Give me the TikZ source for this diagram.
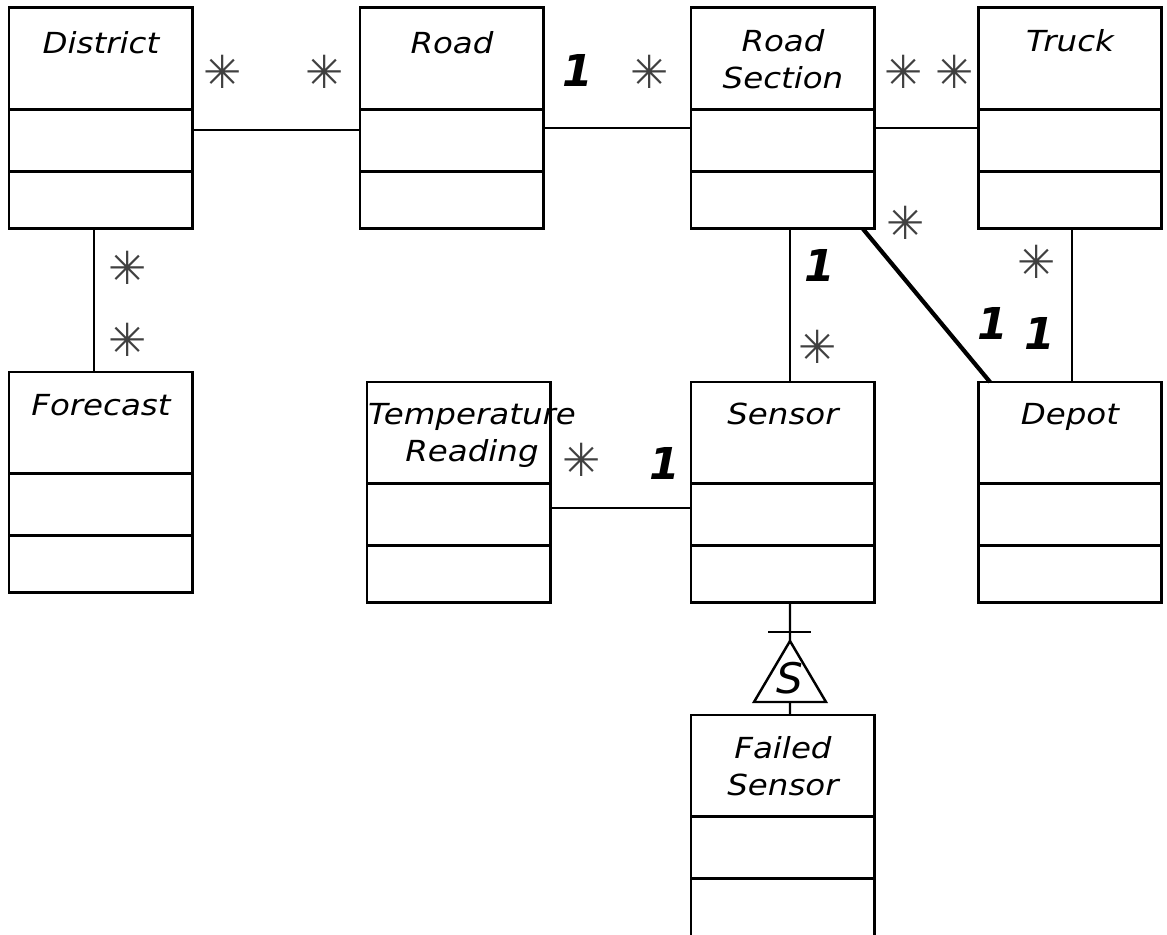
\documentclass[tikz,border=0pt]{standalone}
\usepackage{fontspec}
\usepackage{tikz}
\usetikzlibrary{positioning,calc}
\newfontfamily\umlfont{DejaVu Sans}[FakeStretch=1.12]
\newfontfamily\starfont{DejaVu Sans}

\tikzset{
  clsname/.style={draw, line width=1.7pt, outer sep=0pt, minimum width=3.68cm, minimum height=2.04cm, inner sep=0pt, anchor=north west},
  clsattr/.style={draw, line width=1.7pt, outer sep=0pt, minimum width=3.68cm, minimum height=1.24cm, inner sep=0pt},
  clsops/.style={draw, line width=1.7pt, outer sep=0pt, minimum width=3.68cm, minimum height=1.14cm, inner sep=0pt},
  clslabel/.style={font=\umlfont\itshape\fontsize{16.5}{21}\selectfont, align=center, inner sep=0pt},
  assoc/.style={line width=1.4pt},
  multone/.style={font=\starfont\bfseries\itshape\fontsize{25}{25}\selectfont, inner sep=0pt},
  multmany/.style={font=\starfont\fontsize{26}{26}\selectfont, text=black!75, inner sep=0pt},
}

\begin{document}
\begin{tikzpicture}[x=0.02cm, y=-0.02cm]
  \useasboundingbox (0,0) rectangle (1167,935);

  % Classes, top row
  \node[clsname] (dstN) at (9,8) {};
  \node[clsattr, below=0pt of dstN] (dstA) {};
  \node[clsops, below=0pt of dstA] (dstO) {};
  \node[clslabel, below=0.46cm of dstN.north] (dstL) {District};

  \node[clsname] (roadN) at (360,8) {};
  \node[clsattr, below=0pt of roadN] (roadA) {};
  \node[clsops, below=0pt of roadA] (roadO) {};
  \node[clslabel, below=0.46cm of roadN.north] (roadL) {Road};

  \node[clsname] (rsecN) at (691,8) {};
  \node[clsattr, below=0pt of rsecN] (rsecA) {};
  \node[clsops, below=0pt of rsecA] (rsecO) {};
  \node[clslabel, below=0.42cm of rsecN.north] (rsecL) {Road\\Section};

  \node[clsname] (trkN) at (978,8) {};
  \node[clsattr, below=0pt of trkN] (trkA) {};
  \node[clsops, below=0pt of trkA] (trkO) {};
  \node[clslabel, below=0.42cm of trkN.north] (trkL) {Truck};

  % Classes, middle row
  \node[clsname] (fcstN) at (9,372) {};
  \node[clsattr, below=0pt of fcstN] (fcstA) {};
  \node[clsops, below=0pt of fcstA] (fcstO) {};
  \node[clslabel, below=0.44cm of fcstN.north] (fcstL) {Forecast};

  \node[clsname] (tempN) at (367,382) {};
  \node[clsattr, below=0pt of tempN] (tempA) {};
  \node[clsops, below=0pt of tempA] (tempO) {};
  \node[clslabel, below=0.42cm of tempN.north, xshift=0.26cm] (tempL) {Temperature\\Reading};

  \node[clsname] (snsN) at (691,382) {};
  \node[clsattr, below=0pt of snsN] (snsA) {};
  \node[clsops, below=0pt of snsA] (snsO) {};
  \node[clslabel, below=0.42cm of snsN.north] (snsL) {Sensor};

  \node[clsname] (depN) at (978,382) {};
  \node[clsattr, below=0pt of depN] (depA) {};
  \node[clsops, below=0pt of depA] (depO) {};
  \node[clslabel, below=0.42cm of depN.north] (depL) {Depot};

  % Subclass
  \node[clsname] (fsnsN) at (691,715) {};
  \node[clsattr, below=0pt of fsnsN] (fsnsA) {};
  \node[clsops, below=0pt of fsnsA, minimum height=1.2cm] (fsnsO) {};
  \node[clslabel, below=0.42cm of fsnsN.north] (fsnsL) {Failed\\Sensor};

  % Associations
  \draw[assoc] ([yshift=0.22cm]dstA.east) -- ([yshift=0.22cm]roadA.west);
  \draw[assoc] ([yshift=0.26cm]roadA.east) -- ([yshift=0.26cm]rsecA.west);
  \draw[assoc] ([yshift=0.26cm]rsecA.east) -- ([yshift=0.26cm]trkA.west);
  \draw[assoc] ([xshift=-0.14cm]dstO.south) -- ([xshift=-0.14cm]fcstN.north);
  \draw[assoc] ([xshift=0.14cm]rsecO.south) -- ([xshift=0.14cm]snsN.north);
  \draw[line width=2.4pt] ([xshift=-0.24cm]rsecO.south east) -- ([xshift=0.24cm]depN.north west);
  \draw[assoc] ([xshift=0.04cm]trkO.south) -- ([xshift=0.04cm]depN.north);
  \draw[assoc] ([yshift=0.14cm]tempA.east) -- ([yshift=0.14cm]snsA.west);

  % Generalization
  \coordinate (genTop) at (790,641);
  \coordinate (genBase) at (790,702);
  \draw[assoc] ([xshift=0.14cm]snsO.south) -- (genTop);
  \draw[assoc] ($(genTop)+(-22,-9)$) -- ++(43,0);
  \draw[assoc, line join=miter] (genTop) -- ++(-36,61) -- ++(72,0) -- cycle;
  \node[font=\starfont\itshape\fontsize{24}{24}\selectfont, inner sep=0pt] (genS) at (790,678) {S};
  \draw[assoc] (genBase) -- ([xshift=0.14cm]fsnsN.north);

  % Multiplicities
  \node[multmany] (mDstRoad) at (223,72) {✳};
  \node[multmany] (mRoadDst) at (325,72) {✳};
  \node[multone] (mRoadSec) at (578,70) {1};
  \node[multmany] (mSecRoad) at (650,72) {✳};
  \node[multmany] (mSecTrk) at (904,72) {✳};
  \node[multmany] (mTrkSec) at (955,72) {✳};
  \node[multmany] (mDstFc) at (128,268) {✳};
  \node[multmany] (mFcDst) at (128,340) {✳};
  \node[multone] (mSecSns) at (820,265) {1};
  \node[multmany] (mSnsSec) at (818,347) {✳};
  \node[multmany] (mSecDep) at (906,223) {✳};
  \node[multone] (mDepSec) at (993,323) {1};
  \node[multmany] (mTrkDep) at (1037,262) {✳};
  \node[multone] (mDepTrk) at (1040,333) {1};
  \node[multmany] (mTempSns) at (582,460) {✳};
  \node[multone] (mSnsTemp) at (665,463) {1};
\end{tikzpicture}
\end{document}
